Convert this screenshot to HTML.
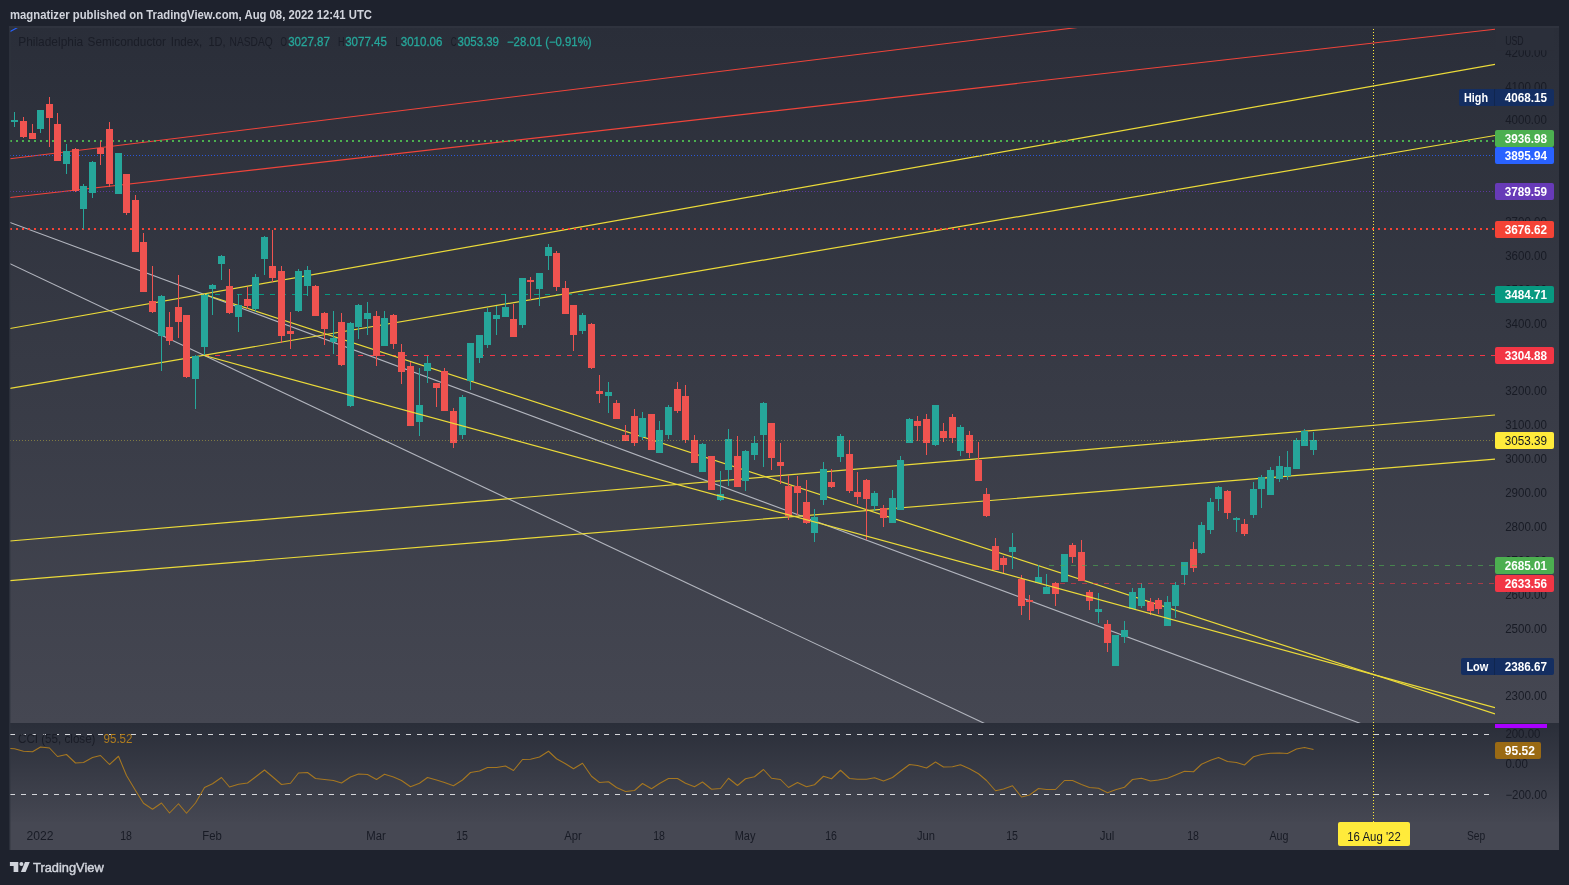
<!DOCTYPE html>
<html><head><meta charset="utf-8"><title>SOX chart</title>
<style>
html,body{margin:0;padding:0;background:#1e222d;}
body{width:1569px;height:885px;overflow:hidden;font-family:"Liberation Sans", sans-serif;}
svg{display:block;position:absolute;left:0;top:0;}
svg{will-change:transform;}
text{font-family:"Liberation Sans", sans-serif;}
</style></head><body>
<svg width="1569" height="885" viewBox="0 0 1569 885">
<defs>
<linearGradient id="gm" x1="0" y1="0" x2="0" y2="1"><stop offset="0" stop-color="#2a2e39"/><stop offset="1" stop-color="#454752"/></linearGradient>
<linearGradient id="gc" x1="0" y1="0" x2="0" y2="1"><stop offset="0" stop-color="#2a2e39"/><stop offset="1" stop-color="#454752"/></linearGradient>
<clipPath id="cm"><rect x="10" y="26" width="1485" height="697"/></clipPath>
<clipPath id="cc"><rect x="10" y="723" width="1485" height="99"/></clipPath>
</defs>
<rect x="0" y="0" width="1569" height="885" fill="#1e222d"/>
<rect x="10" y="26" width="1549" height="697" fill="url(#gm)"/>
<rect x="10" y="723" width="1549" height="99" fill="url(#gc)"/>
<rect x="10" y="822" width="1549" height="28" fill="#464853"/>

<text x="10" y="18.7" font-size="12" font-weight="bold" fill="#d1d4dc" textLength="362" lengthAdjust="spacingAndGlyphs">magnatizer published on TradingView.com, Aug 08, 2022 12:41 UTC</text>
<g clip-path="url(#cm)">
<line x1="204" y1="294.5" x2="1495" y2="294.5" stroke="#089981" stroke-width="1" stroke-dasharray="5 6" stroke-opacity="1" shape-rendering="crispEdges"/>
<line x1="204" y1="355.5" x2="1495" y2="355.5" stroke="#f23645" stroke-width="1" stroke-dasharray="5 6" stroke-opacity="1" shape-rendering="crispEdges"/>
</g>
<g clip-path="url(#cm)" fill="none">
<line x1="10.00" y1="222.40" x2="1500.00" y2="775.21" stroke="#b2b5be" stroke-width="1.1"/>
<line x1="10.00" y1="263.75" x2="1100.00" y2="777.93" stroke="#b2b5be" stroke-width="1.1"/>
<line x1="10.00" y1="158.70" x2="1200.00" y2="12.43" stroke="#f0443a" stroke-width="1.1"/>
<line x1="10.00" y1="197.50" x2="1495.00" y2="29.30" stroke="#f0443a" stroke-width="1.1"/>
<line x1="10.00" y1="328.50" x2="1495.00" y2="64.30" stroke="#ecdb39" stroke-width="1.2"/>
<line x1="10.00" y1="388.30" x2="1495.00" y2="135.50" stroke="#ecdb39" stroke-width="1.2"/>
<line x1="10.00" y1="541.00" x2="1495.00" y2="415.00" stroke="#ecdb39" stroke-width="1.2"/>
<line x1="10.00" y1="580.70" x2="1495.00" y2="459.20" stroke="#ecdb39" stroke-width="1.2"/>
<line x1="204.50" y1="294.50" x2="1495.00" y2="714.00" stroke="#ecdb39" stroke-width="1.2"/>
</g>
<g clip-path="url(#cm)">
<line x1="10" y1="141.0" x2="1495" y2="141.0" stroke="#4caf50" stroke-width="2" stroke-dasharray="2 4" stroke-opacity="1" shape-rendering="crispEdges"/>
<line x1="10" y1="155.5" x2="1495" y2="155.5" stroke="#2962ff" stroke-width="1" stroke-dasharray="1 2" stroke-opacity="0.8" shape-rendering="crispEdges"/>
<line x1="10" y1="191.5" x2="1495" y2="191.5" stroke="#673ab7" stroke-width="1" stroke-dasharray="1 2" stroke-opacity="0.8" shape-rendering="crispEdges"/>
<line x1="10" y1="229.0" x2="1495" y2="229.0" stroke="#f44336" stroke-width="2" stroke-dasharray="2 4" stroke-opacity="1" shape-rendering="crispEdges"/>
</g>
<g shape-rendering="crispEdges">
<rect x="14" y="112" width="1" height="15" fill="#26a69a"/>
<rect x="11" y="120" width="7" height="2" fill="#26a69a"/>
<rect x="23" y="117" width="1" height="21" fill="#ef5350"/>
<rect x="20" y="121" width="7" height="16" fill="#ef5350"/>
<rect x="32" y="124" width="1" height="15" fill="#ef5350"/>
<rect x="29" y="133" width="7" height="6" fill="#ef5350"/>
<rect x="40" y="110" width="1" height="23" fill="#26a69a"/>
<rect x="37" y="110" width="7" height="19" fill="#26a69a"/>
<rect x="49" y="97" width="1" height="50" fill="#ef5350"/>
<rect x="46" y="104" width="7" height="14" fill="#ef5350"/>
<rect x="57" y="113" width="1" height="48" fill="#ef5350"/>
<rect x="54" y="124" width="7" height="37" fill="#ef5350"/>
<rect x="66" y="144" width="1" height="30" fill="#26a69a"/>
<rect x="63" y="151" width="7" height="13" fill="#26a69a"/>
<rect x="75" y="148" width="1" height="44" fill="#ef5350"/>
<rect x="72" y="149" width="7" height="42" fill="#ef5350"/>
<rect x="83" y="184" width="1" height="45" fill="#26a69a"/>
<rect x="80" y="186" width="7" height="23" fill="#26a69a"/>
<rect x="92" y="161" width="1" height="37" fill="#26a69a"/>
<rect x="89" y="162" width="7" height="31" fill="#26a69a"/>
<rect x="100" y="141" width="1" height="24" fill="#ef5350"/>
<rect x="97" y="148" width="7" height="6" fill="#ef5350"/>
<rect x="109" y="122" width="1" height="65" fill="#ef5350"/>
<rect x="106" y="129" width="7" height="55" fill="#ef5350"/>
<rect x="118" y="153" width="1" height="41" fill="#26a69a"/>
<rect x="115" y="153" width="7" height="41" fill="#26a69a"/>
<rect x="126" y="174" width="1" height="41" fill="#ef5350"/>
<rect x="123" y="174" width="7" height="39" fill="#ef5350"/>
<rect x="135" y="195" width="1" height="57" fill="#ef5350"/>
<rect x="132" y="200" width="7" height="52" fill="#ef5350"/>
<rect x="143" y="233" width="1" height="59" fill="#ef5350"/>
<rect x="140" y="242" width="7" height="50" fill="#ef5350"/>
<rect x="152" y="266" width="1" height="47" fill="#ef5350"/>
<rect x="149" y="301" width="7" height="11" fill="#ef5350"/>
<rect x="161" y="295" width="1" height="76" fill="#26a69a"/>
<rect x="158" y="296" width="7" height="40" fill="#26a69a"/>
<rect x="169" y="312" width="1" height="33" fill="#ef5350"/>
<rect x="166" y="327" width="7" height="14" fill="#ef5350"/>
<rect x="178" y="275" width="1" height="63" fill="#ef5350"/>
<rect x="175" y="307" width="7" height="15" fill="#ef5350"/>
<rect x="186" y="315" width="1" height="63" fill="#ef5350"/>
<rect x="183" y="315" width="7" height="62" fill="#ef5350"/>
<rect x="195" y="355" width="1" height="54" fill="#26a69a"/>
<rect x="192" y="356" width="7" height="23" fill="#26a69a"/>
<rect x="204" y="294" width="1" height="61" fill="#26a69a"/>
<rect x="201" y="295" width="7" height="52" fill="#26a69a"/>
<rect x="212" y="284" width="1" height="31" fill="#26a69a"/>
<rect x="209" y="285" width="7" height="4" fill="#26a69a"/>
<rect x="221" y="255" width="1" height="25" fill="#26a69a"/>
<rect x="218" y="256" width="7" height="8" fill="#26a69a"/>
<rect x="229" y="269" width="1" height="45" fill="#ef5350"/>
<rect x="226" y="286" width="7" height="27" fill="#ef5350"/>
<rect x="238" y="294" width="1" height="38" fill="#26a69a"/>
<rect x="235" y="305" width="7" height="12" fill="#26a69a"/>
<rect x="247" y="287" width="1" height="22" fill="#ef5350"/>
<rect x="244" y="299" width="7" height="7" fill="#ef5350"/>
<rect x="255" y="274" width="1" height="38" fill="#26a69a"/>
<rect x="252" y="277" width="7" height="32" fill="#26a69a"/>
<rect x="264" y="236" width="1" height="39" fill="#26a69a"/>
<rect x="261" y="237" width="7" height="22" fill="#26a69a"/>
<rect x="272" y="230" width="1" height="52" fill="#ef5350"/>
<rect x="269" y="266" width="7" height="12" fill="#ef5350"/>
<rect x="281" y="266" width="1" height="77" fill="#ef5350"/>
<rect x="278" y="271" width="7" height="65" fill="#ef5350"/>
<rect x="290" y="312" width="1" height="37" fill="#ef5350"/>
<rect x="287" y="331" width="7" height="3" fill="#ef5350"/>
<rect x="298" y="269" width="1" height="43" fill="#26a69a"/>
<rect x="295" y="271" width="7" height="40" fill="#26a69a"/>
<rect x="307" y="266" width="1" height="30" fill="#26a69a"/>
<rect x="304" y="270" width="7" height="16" fill="#26a69a"/>
<rect x="315" y="285" width="1" height="31" fill="#ef5350"/>
<rect x="312" y="286" width="7" height="30" fill="#ef5350"/>
<rect x="324" y="312" width="1" height="33" fill="#ef5350"/>
<rect x="321" y="313" width="7" height="16" fill="#ef5350"/>
<rect x="333" y="311" width="1" height="43" fill="#26a69a"/>
<rect x="330" y="338" width="7" height="4" fill="#26a69a"/>
<rect x="341" y="313" width="1" height="53" fill="#ef5350"/>
<rect x="338" y="322" width="7" height="43" fill="#ef5350"/>
<rect x="350" y="322" width="1" height="85" fill="#26a69a"/>
<rect x="347" y="323" width="7" height="83" fill="#26a69a"/>
<rect x="358" y="304" width="1" height="35" fill="#26a69a"/>
<rect x="355" y="305" width="7" height="22" fill="#26a69a"/>
<rect x="367" y="302" width="1" height="33" fill="#26a69a"/>
<rect x="364" y="313" width="7" height="6" fill="#26a69a"/>
<rect x="376" y="311" width="1" height="55" fill="#ef5350"/>
<rect x="373" y="316" width="7" height="40" fill="#ef5350"/>
<rect x="384" y="311" width="1" height="35" fill="#26a69a"/>
<rect x="381" y="318" width="7" height="28" fill="#26a69a"/>
<rect x="393" y="314" width="1" height="35" fill="#ef5350"/>
<rect x="390" y="315" width="7" height="29" fill="#ef5350"/>
<rect x="401" y="344" width="1" height="40" fill="#ef5350"/>
<rect x="398" y="352" width="7" height="20" fill="#ef5350"/>
<rect x="410" y="362" width="1" height="64" fill="#ef5350"/>
<rect x="407" y="366" width="7" height="60" fill="#ef5350"/>
<rect x="419" y="368" width="1" height="68" fill="#26a69a"/>
<rect x="416" y="405" width="7" height="17" fill="#26a69a"/>
<rect x="427" y="356" width="1" height="27" fill="#26a69a"/>
<rect x="424" y="363" width="7" height="8" fill="#26a69a"/>
<rect x="436" y="383" width="1" height="24" fill="#ef5350"/>
<rect x="433" y="383" width="7" height="5" fill="#ef5350"/>
<rect x="444" y="368" width="1" height="43" fill="#ef5350"/>
<rect x="441" y="371" width="7" height="40" fill="#ef5350"/>
<rect x="453" y="408" width="1" height="40" fill="#ef5350"/>
<rect x="450" y="411" width="7" height="32" fill="#ef5350"/>
<rect x="462" y="395" width="1" height="44" fill="#26a69a"/>
<rect x="459" y="397" width="7" height="38" fill="#26a69a"/>
<rect x="470" y="343" width="1" height="47" fill="#26a69a"/>
<rect x="467" y="343" width="7" height="38" fill="#26a69a"/>
<rect x="479" y="335" width="1" height="28" fill="#26a69a"/>
<rect x="476" y="335" width="7" height="23" fill="#26a69a"/>
<rect x="487" y="308" width="1" height="40" fill="#26a69a"/>
<rect x="484" y="312" width="7" height="33" fill="#26a69a"/>
<rect x="496" y="306" width="1" height="29" fill="#26a69a"/>
<rect x="493" y="315" width="7" height="4" fill="#26a69a"/>
<rect x="505" y="294" width="1" height="23" fill="#26a69a"/>
<rect x="502" y="307" width="7" height="10" fill="#26a69a"/>
<rect x="513" y="304" width="1" height="33" fill="#ef5350"/>
<rect x="510" y="319" width="7" height="18" fill="#ef5350"/>
<rect x="522" y="278" width="1" height="50" fill="#26a69a"/>
<rect x="519" y="278" width="7" height="47" fill="#26a69a"/>
<rect x="530" y="277" width="1" height="23" fill="#ef5350"/>
<rect x="527" y="280" width="7" height="2" fill="#ef5350"/>
<rect x="539" y="273" width="1" height="33" fill="#26a69a"/>
<rect x="536" y="273" width="7" height="16" fill="#26a69a"/>
<rect x="548" y="244" width="1" height="26" fill="#26a69a"/>
<rect x="545" y="247" width="7" height="9" fill="#26a69a"/>
<rect x="556" y="251" width="1" height="40" fill="#ef5350"/>
<rect x="553" y="253" width="7" height="34" fill="#ef5350"/>
<rect x="565" y="281" width="1" height="33" fill="#ef5350"/>
<rect x="562" y="288" width="7" height="26" fill="#ef5350"/>
<rect x="573" y="305" width="1" height="46" fill="#ef5350"/>
<rect x="570" y="305" width="7" height="30" fill="#ef5350"/>
<rect x="582" y="313" width="1" height="21" fill="#26a69a"/>
<rect x="579" y="315" width="7" height="16" fill="#26a69a"/>
<rect x="591" y="323" width="1" height="46" fill="#ef5350"/>
<rect x="588" y="324" width="7" height="44" fill="#ef5350"/>
<rect x="599" y="375" width="1" height="28" fill="#ef5350"/>
<rect x="596" y="391" width="7" height="3" fill="#ef5350"/>
<rect x="608" y="382" width="1" height="31" fill="#26a69a"/>
<rect x="605" y="392" width="7" height="4" fill="#26a69a"/>
<rect x="616" y="400" width="1" height="19" fill="#ef5350"/>
<rect x="613" y="403" width="7" height="16" fill="#ef5350"/>
<rect x="625" y="425" width="1" height="16" fill="#ef5350"/>
<rect x="622" y="435" width="7" height="6" fill="#ef5350"/>
<rect x="634" y="409" width="1" height="37" fill="#ef5350"/>
<rect x="631" y="416" width="7" height="27" fill="#ef5350"/>
<rect x="642" y="412" width="1" height="28" fill="#26a69a"/>
<rect x="639" y="418" width="7" height="19" fill="#26a69a"/>
<rect x="651" y="414" width="1" height="36" fill="#ef5350"/>
<rect x="648" y="414" width="7" height="36" fill="#ef5350"/>
<rect x="659" y="421" width="1" height="32" fill="#26a69a"/>
<rect x="656" y="430" width="7" height="23" fill="#26a69a"/>
<rect x="668" y="405" width="1" height="34" fill="#26a69a"/>
<rect x="665" y="407" width="7" height="28" fill="#26a69a"/>
<rect x="677" y="382" width="1" height="31" fill="#ef5350"/>
<rect x="674" y="389" width="7" height="22" fill="#ef5350"/>
<rect x="685" y="385" width="1" height="58" fill="#ef5350"/>
<rect x="682" y="396" width="7" height="44" fill="#ef5350"/>
<rect x="694" y="435" width="1" height="28" fill="#ef5350"/>
<rect x="691" y="440" width="7" height="23" fill="#ef5350"/>
<rect x="702" y="443" width="1" height="29" fill="#26a69a"/>
<rect x="699" y="444" width="7" height="28" fill="#26a69a"/>
<rect x="711" y="456" width="1" height="34" fill="#ef5350"/>
<rect x="708" y="456" width="7" height="34" fill="#ef5350"/>
<rect x="720" y="471" width="1" height="30" fill="#26a69a"/>
<rect x="717" y="494" width="7" height="6" fill="#26a69a"/>
<rect x="728" y="429" width="1" height="57" fill="#26a69a"/>
<rect x="725" y="439" width="7" height="31" fill="#26a69a"/>
<rect x="737" y="436" width="1" height="51" fill="#ef5350"/>
<rect x="734" y="456" width="7" height="31" fill="#ef5350"/>
<rect x="745" y="450" width="1" height="41" fill="#26a69a"/>
<rect x="742" y="451" width="7" height="30" fill="#26a69a"/>
<rect x="754" y="436" width="1" height="24" fill="#26a69a"/>
<rect x="751" y="443" width="7" height="12" fill="#26a69a"/>
<rect x="763" y="402" width="1" height="65" fill="#26a69a"/>
<rect x="760" y="403" width="7" height="32" fill="#26a69a"/>
<rect x="771" y="423" width="1" height="47" fill="#ef5350"/>
<rect x="768" y="423" width="7" height="35" fill="#ef5350"/>
<rect x="780" y="443" width="1" height="41" fill="#ef5350"/>
<rect x="777" y="462" width="7" height="4" fill="#ef5350"/>
<rect x="788" y="475" width="1" height="45" fill="#ef5350"/>
<rect x="785" y="486" width="7" height="30" fill="#ef5350"/>
<rect x="797" y="476" width="1" height="39" fill="#ef5350"/>
<rect x="794" y="486" width="7" height="7" fill="#ef5350"/>
<rect x="806" y="480" width="1" height="44" fill="#ef5350"/>
<rect x="803" y="502" width="7" height="21" fill="#ef5350"/>
<rect x="814" y="509" width="1" height="33" fill="#26a69a"/>
<rect x="811" y="517" width="7" height="16" fill="#26a69a"/>
<rect x="823" y="462" width="1" height="43" fill="#26a69a"/>
<rect x="820" y="469" width="7" height="31" fill="#26a69a"/>
<rect x="831" y="469" width="1" height="19" fill="#ef5350"/>
<rect x="828" y="482" width="7" height="5" fill="#ef5350"/>
<rect x="840" y="434" width="1" height="28" fill="#26a69a"/>
<rect x="837" y="436" width="7" height="21" fill="#26a69a"/>
<rect x="849" y="440" width="1" height="53" fill="#ef5350"/>
<rect x="846" y="454" width="7" height="37" fill="#ef5350"/>
<rect x="857" y="472" width="1" height="32" fill="#ef5350"/>
<rect x="854" y="492" width="7" height="5" fill="#ef5350"/>
<rect x="866" y="479" width="1" height="61" fill="#ef5350"/>
<rect x="863" y="480" width="7" height="19" fill="#ef5350"/>
<rect x="874" y="491" width="1" height="20" fill="#26a69a"/>
<rect x="871" y="493" width="7" height="13" fill="#26a69a"/>
<rect x="883" y="505" width="1" height="22" fill="#ef5350"/>
<rect x="880" y="508" width="7" height="10" fill="#ef5350"/>
<rect x="892" y="490" width="1" height="33" fill="#26a69a"/>
<rect x="889" y="498" width="7" height="25" fill="#26a69a"/>
<rect x="900" y="456" width="1" height="54" fill="#26a69a"/>
<rect x="897" y="460" width="7" height="50" fill="#26a69a"/>
<rect x="909" y="418" width="1" height="25" fill="#26a69a"/>
<rect x="906" y="419" width="7" height="24" fill="#26a69a"/>
<rect x="917" y="416" width="1" height="25" fill="#ef5350"/>
<rect x="914" y="421" width="7" height="5" fill="#ef5350"/>
<rect x="926" y="414" width="1" height="41" fill="#ef5350"/>
<rect x="923" y="419" width="7" height="24" fill="#ef5350"/>
<rect x="935" y="405" width="1" height="41" fill="#26a69a"/>
<rect x="932" y="405" width="7" height="40" fill="#26a69a"/>
<rect x="943" y="423" width="1" height="19" fill="#ef5350"/>
<rect x="940" y="431" width="7" height="7" fill="#ef5350"/>
<rect x="952" y="414" width="1" height="29" fill="#ef5350"/>
<rect x="949" y="417" width="7" height="21" fill="#ef5350"/>
<rect x="960" y="425" width="1" height="31" fill="#26a69a"/>
<rect x="957" y="427" width="7" height="24" fill="#26a69a"/>
<rect x="969" y="431" width="1" height="27" fill="#ef5350"/>
<rect x="966" y="435" width="7" height="18" fill="#ef5350"/>
<rect x="978" y="442" width="1" height="39" fill="#ef5350"/>
<rect x="975" y="460" width="7" height="21" fill="#ef5350"/>
<rect x="986" y="488" width="1" height="29" fill="#ef5350"/>
<rect x="983" y="494" width="7" height="22" fill="#ef5350"/>
<rect x="995" y="538" width="1" height="32" fill="#ef5350"/>
<rect x="992" y="546" width="7" height="24" fill="#ef5350"/>
<rect x="1003" y="556" width="1" height="17" fill="#ef5350"/>
<rect x="1000" y="558" width="7" height="7" fill="#ef5350"/>
<rect x="1012" y="533" width="1" height="36" fill="#26a69a"/>
<rect x="1009" y="547" width="7" height="5" fill="#26a69a"/>
<rect x="1021" y="575" width="1" height="40" fill="#ef5350"/>
<rect x="1018" y="579" width="7" height="27" fill="#ef5350"/>
<rect x="1029" y="595" width="1" height="25" fill="#ef5350"/>
<rect x="1026" y="600" width="7" height="2" fill="#ef5350"/>
<rect x="1038" y="565" width="1" height="18" fill="#26a69a"/>
<rect x="1035" y="577" width="7" height="6" fill="#26a69a"/>
<rect x="1046" y="574" width="1" height="20" fill="#26a69a"/>
<rect x="1043" y="587" width="7" height="7" fill="#26a69a"/>
<rect x="1055" y="582" width="1" height="24" fill="#ef5350"/>
<rect x="1052" y="583" width="7" height="11" fill="#ef5350"/>
<rect x="1064" y="554" width="1" height="28" fill="#26a69a"/>
<rect x="1061" y="554" width="7" height="28" fill="#26a69a"/>
<rect x="1072" y="543" width="1" height="20" fill="#ef5350"/>
<rect x="1069" y="545" width="7" height="12" fill="#ef5350"/>
<rect x="1081" y="540" width="1" height="41" fill="#ef5350"/>
<rect x="1078" y="552" width="7" height="29" fill="#ef5350"/>
<rect x="1089" y="590" width="1" height="20" fill="#ef5350"/>
<rect x="1086" y="592" width="7" height="9" fill="#ef5350"/>
<rect x="1098" y="593" width="1" height="30" fill="#26a69a"/>
<rect x="1095" y="609" width="7" height="3" fill="#26a69a"/>
<rect x="1107" y="620" width="1" height="32" fill="#ef5350"/>
<rect x="1104" y="624" width="7" height="19" fill="#ef5350"/>
<rect x="1115" y="635" width="1" height="31" fill="#26a69a"/>
<rect x="1112" y="635" width="7" height="31" fill="#26a69a"/>
<rect x="1124" y="621" width="1" height="22" fill="#26a69a"/>
<rect x="1121" y="630" width="7" height="7" fill="#26a69a"/>
<rect x="1132" y="588" width="1" height="21" fill="#26a69a"/>
<rect x="1129" y="592" width="7" height="17" fill="#26a69a"/>
<rect x="1141" y="583" width="1" height="25" fill="#26a69a"/>
<rect x="1138" y="588" width="7" height="18" fill="#26a69a"/>
<rect x="1150" y="598" width="1" height="17" fill="#ef5350"/>
<rect x="1147" y="602" width="7" height="9" fill="#ef5350"/>
<rect x="1158" y="598" width="1" height="16" fill="#ef5350"/>
<rect x="1155" y="600" width="7" height="9" fill="#ef5350"/>
<rect x="1167" y="596" width="1" height="30" fill="#26a69a"/>
<rect x="1164" y="602" width="7" height="24" fill="#26a69a"/>
<rect x="1175" y="582" width="1" height="36" fill="#26a69a"/>
<rect x="1172" y="585" width="7" height="21" fill="#26a69a"/>
<rect x="1184" y="562" width="1" height="23" fill="#26a69a"/>
<rect x="1181" y="562" width="7" height="13" fill="#26a69a"/>
<rect x="1193" y="542" width="1" height="30" fill="#ef5350"/>
<rect x="1190" y="549" width="7" height="19" fill="#ef5350"/>
<rect x="1201" y="522" width="1" height="32" fill="#26a69a"/>
<rect x="1198" y="525" width="7" height="28" fill="#26a69a"/>
<rect x="1210" y="498" width="1" height="36" fill="#26a69a"/>
<rect x="1207" y="502" width="7" height="28" fill="#26a69a"/>
<rect x="1218" y="486" width="1" height="25" fill="#26a69a"/>
<rect x="1215" y="487" width="7" height="12" fill="#26a69a"/>
<rect x="1227" y="490" width="1" height="29" fill="#ef5350"/>
<rect x="1224" y="491" width="7" height="22" fill="#ef5350"/>
<rect x="1236" y="517" width="1" height="15" fill="#26a69a"/>
<rect x="1233" y="518" width="7" height="2" fill="#26a69a"/>
<rect x="1244" y="519" width="1" height="17" fill="#ef5350"/>
<rect x="1241" y="524" width="7" height="10" fill="#ef5350"/>
<rect x="1253" y="482" width="1" height="36" fill="#26a69a"/>
<rect x="1250" y="489" width="7" height="26" fill="#26a69a"/>
<rect x="1261" y="475" width="1" height="33" fill="#26a69a"/>
<rect x="1258" y="477" width="7" height="12" fill="#26a69a"/>
<rect x="1270" y="467" width="1" height="28" fill="#26a69a"/>
<rect x="1267" y="470" width="7" height="25" fill="#26a69a"/>
<rect x="1279" y="456" width="1" height="26" fill="#26a69a"/>
<rect x="1276" y="466" width="7" height="13" fill="#26a69a"/>
<rect x="1287" y="451" width="1" height="29" fill="#26a69a"/>
<rect x="1284" y="467" width="7" height="9" fill="#26a69a"/>
<rect x="1296" y="438" width="1" height="31" fill="#26a69a"/>
<rect x="1293" y="440" width="7" height="29" fill="#26a69a"/>
<rect x="1304" y="429" width="1" height="17" fill="#26a69a"/>
<rect x="1301" y="431" width="7" height="15" fill="#26a69a"/>
<rect x="1313" y="432" width="1" height="23" fill="#26a69a"/>
<rect x="1310" y="440" width="7" height="10" fill="#26a69a"/>
</g>
<g clip-path="url(#cm)">
<line x1="204.50" y1="355.50" x2="1495.00" y2="707.66" stroke="#ecdb39" stroke-width="1.2"/>
<line x1="1049" y1="565.5" x2="1495" y2="565.5" stroke="#4caf50" stroke-width="1" stroke-dasharray="5 6" stroke-opacity="0.6" shape-rendering="crispEdges"/>
<line x1="1060" y1="583.5" x2="1495" y2="583.5" stroke="#f23645" stroke-width="1" stroke-dasharray="5 6" stroke-opacity="0.6" shape-rendering="crispEdges"/>
<line x1="10" y1="440.5" x2="1495" y2="440.5" stroke="#ffeb3b" stroke-width="1" stroke-dasharray="1 2" stroke-opacity="0.35" shape-rendering="crispEdges"/>
</g>
<line x1="1373.5" y1="26" x2="1373.5" y2="822" stroke="#ffeb3b" stroke-width="1" stroke-dasharray="1 2" shape-rendering="crispEdges"/>
<g clip-path="url(#cc)">
<line x1="10" y1="734.5" x2="1495" y2="734.5" stroke="#d5d6da" stroke-width="1" stroke-dasharray="5 6" stroke-opacity="1" shape-rendering="crispEdges"/>
<line x1="10" y1="794.5" x2="1495" y2="794.5" stroke="#d5d6da" stroke-width="1" stroke-dasharray="5 6" stroke-opacity="1" shape-rendering="crispEdges"/>
<polyline points="5.5,748.2 14.5,748.75 23.5,751.25 32.5,751.75 40.5,747.00 49.5,748.00 57.5,756.50 66.5,754.50 75.5,763.00 83.5,762.50 92.5,757.50 100.5,755.50 109.5,764.50 118.5,756.25 126.5,775.50 135.5,790.50 143.5,803.25 152.5,809.25 161.5,803.00 169.5,813.00 178.5,803.75 186.5,813.25 195.5,803.00 204.5,787.50 212.5,783.75 221.5,777.50 229.5,787.00 238.5,784.25 247.5,783.00 255.5,777.00 264.5,770.00 272.5,776.75 281.5,784.50 290.5,783.25 298.5,773.00 307.5,772.50 315.5,778.50 324.5,779.50 333.5,780.50 341.5,783.00 350.5,777.00 358.5,774.00 367.5,774.50 376.5,779.50 384.5,774.25 393.5,777.00 401.5,780.50 410.5,786.75 419.5,783.25 427.5,777.50 436.5,780.00 444.5,782.50 453.5,785.75 462.5,780.00 470.5,772.50 479.5,771.00 487.5,767.50 496.5,767.50 505.5,766.00 513.5,770.50 522.5,759.50 530.5,759.25 539.5,757.00 548.5,751.25 556.5,758.75 565.5,763.75 573.5,768.75 582.5,763.25 591.5,776.25 599.5,782.50 608.5,781.75 616.5,787.50 625.5,791.50 634.5,790.50 642.5,783.50 651.5,788.75 659.5,783.50 668.5,778.50 677.5,778.50 685.5,783.25 694.5,786.75 702.5,782.00 711.5,789.25 720.5,788.50 728.5,778.25 737.5,785.50 745.5,778.75 754.5,776.75 763.5,769.50 771.5,778.25 780.5,779.50 788.5,787.50 797.5,782.50 806.5,786.75 814.5,784.75 823.5,776.25 831.5,778.75 840.5,770.25 849.5,778.50 857.5,779.25 866.5,779.25 874.5,777.75 883.5,781.00 892.5,777.50 900.5,771.25 909.5,764.50 917.5,765.50 926.5,768.00 935.5,762.00 943.5,767.00 952.5,766.75 960.5,764.75 969.5,768.75 978.5,773.75 986.5,780.50 995.5,790.75 1003.5,789.00 1012.5,785.75 1021.5,797.00 1029.5,795.00 1038.5,788.50 1046.5,789.50 1055.5,789.50 1064.5,780.50 1072.5,780.50 1081.5,784.50 1089.5,787.50 1098.5,788.25 1107.5,792.75 1115.5,789.75 1124.5,787.25 1132.5,779.50 1141.5,778.25 1150.5,781.00 1158.5,780.00 1167.5,778.25 1175.5,775.00 1184.5,771.25 1193.5,771.75 1201.5,764.25 1210.5,760.25 1218.5,757.50 1227.5,761.50 1236.5,762.50 1244.5,765.00 1253.5,756.75 1261.5,754.50 1270.5,753.25 1279.5,753.00 1287.5,753.50 1296.5,749.00 1304.5,747.50 1313.5,749.50" fill="none" stroke="#a67720" stroke-width="1.05" stroke-linejoin="round"/>
</g>
<line x1="10.2" y1="31.6" x2="18.5" y2="26.9" stroke="#2962ff" stroke-width="1.15"/>
<rect x="9" y="26" width="1.5" height="824" fill="#30343f" opacity="0.8"/>
<rect x="9" y="26" width="1550" height="2" fill="#2f333e"/>
<text x="18.2" y="46" font-size="12" font-weight="normal" fill="#1a1d27" text-anchor="start" textLength="65" lengthAdjust="spacingAndGlyphs">Philadelphia</text>
<text x="87.6" y="46" font-size="12" font-weight="normal" fill="#1a1d27" text-anchor="start" textLength="78.4" lengthAdjust="spacingAndGlyphs">Semiconductor</text>
<text x="170.7" y="46" font-size="12" font-weight="normal" fill="#1a1d27" text-anchor="start" textLength="31.6" lengthAdjust="spacingAndGlyphs">Index,</text>
<text x="208.4" y="46" font-size="12" font-weight="normal" fill="#1a1d27" text-anchor="start" textLength="17.2" lengthAdjust="spacingAndGlyphs">1D,</text>
<text x="229.6" y="46" font-size="12" font-weight="normal" fill="#1a1d27" text-anchor="start" textLength="43" lengthAdjust="spacingAndGlyphs">NASDAQ</text>
<text x="280.6" y="46" font-size="12" font-weight="normal" fill="#1a1d27" text-anchor="start" textLength="6.4" lengthAdjust="spacingAndGlyphs">O</text>
<text x="288.2" y="46" font-size="12" font-weight="normal" fill="#26a69a" text-anchor="start" textLength="41.6" lengthAdjust="spacingAndGlyphs" stroke="#26a69a" stroke-width="0.3">3027.87</text>
<text x="338" y="46" font-size="12" font-weight="normal" fill="#1a1d27" text-anchor="start" textLength="6.5" lengthAdjust="spacingAndGlyphs">H</text>
<text x="345.2" y="46" font-size="12" font-weight="normal" fill="#26a69a" text-anchor="start" textLength="41.6" lengthAdjust="spacingAndGlyphs" stroke="#26a69a" stroke-width="0.3">3077.45</text>
<text x="395.4" y="46" font-size="12" font-weight="normal" fill="#1a1d27" text-anchor="start" textLength="4.4" lengthAdjust="spacingAndGlyphs">L</text>
<text x="400.8" y="46" font-size="12" font-weight="normal" fill="#26a69a" text-anchor="start" textLength="41.6" lengthAdjust="spacingAndGlyphs" stroke="#26a69a" stroke-width="0.3">3010.06</text>
<text x="450.7" y="46" font-size="12" font-weight="normal" fill="#1a1d27" text-anchor="start" textLength="5.8" lengthAdjust="spacingAndGlyphs">C</text>
<text x="457.6" y="46" font-size="12" font-weight="normal" fill="#26a69a" text-anchor="start" textLength="41.4" lengthAdjust="spacingAndGlyphs" stroke="#26a69a" stroke-width="0.3">3053.39</text>
<text x="507" y="46" font-size="12" font-weight="normal" fill="#26a69a" text-anchor="start" textLength="84.5" lengthAdjust="spacingAndGlyphs" stroke="#26a69a" stroke-width="0.3">&#8722;28.01 (&#8722;0.91%)</text>
<text x="18" y="743" font-size="12" font-weight="normal" fill="#1a1d27" text-anchor="start" textLength="77.5" lengthAdjust="spacingAndGlyphs">CCI (55, close)</text>
<text x="103.5" y="743" font-size="12" font-weight="normal" fill="#b07d1e" text-anchor="start" textLength="29" lengthAdjust="spacingAndGlyphs">95.52</text>
<text x="1505.2" y="700.4" font-size="12" font-weight="normal" fill="#181b25" text-anchor="start" textLength="41.7" lengthAdjust="spacingAndGlyphs">2300.00</text>
<text x="1505.2" y="666.5" font-size="12" font-weight="normal" fill="#181b25" text-anchor="start" textLength="41.7" lengthAdjust="spacingAndGlyphs">2400.00</text>
<text x="1505.2" y="632.6" font-size="12" font-weight="normal" fill="#181b25" text-anchor="start" textLength="41.7" lengthAdjust="spacingAndGlyphs">2500.00</text>
<text x="1505.2" y="598.7" font-size="12" font-weight="normal" fill="#181b25" text-anchor="start" textLength="41.7" lengthAdjust="spacingAndGlyphs">2600.00</text>
<text x="1505.2" y="564.8" font-size="12" font-weight="normal" fill="#181b25" text-anchor="start" textLength="41.7" lengthAdjust="spacingAndGlyphs">2700.00</text>
<text x="1505.2" y="531.0" font-size="12" font-weight="normal" fill="#181b25" text-anchor="start" textLength="41.7" lengthAdjust="spacingAndGlyphs">2800.00</text>
<text x="1505.2" y="497.1" font-size="12" font-weight="normal" fill="#181b25" text-anchor="start" textLength="41.7" lengthAdjust="spacingAndGlyphs">2900.00</text>
<text x="1505.2" y="463.2" font-size="12" font-weight="normal" fill="#181b25" text-anchor="start" textLength="41.7" lengthAdjust="spacingAndGlyphs">3000.00</text>
<text x="1505.2" y="429.3" font-size="12" font-weight="normal" fill="#181b25" text-anchor="start" textLength="41.7" lengthAdjust="spacingAndGlyphs">3100.00</text>
<text x="1505.2" y="395.4" font-size="12" font-weight="normal" fill="#181b25" text-anchor="start" textLength="41.7" lengthAdjust="spacingAndGlyphs">3200.00</text>
<text x="1505.2" y="361.6" font-size="12" font-weight="normal" fill="#181b25" text-anchor="start" textLength="41.7" lengthAdjust="spacingAndGlyphs">3300.00</text>
<text x="1505.2" y="327.7" font-size="12" font-weight="normal" fill="#181b25" text-anchor="start" textLength="41.7" lengthAdjust="spacingAndGlyphs">3400.00</text>
<text x="1505.2" y="293.8" font-size="12" font-weight="normal" fill="#181b25" text-anchor="start" textLength="41.7" lengthAdjust="spacingAndGlyphs">3500.00</text>
<text x="1505.2" y="259.9" font-size="12" font-weight="normal" fill="#181b25" text-anchor="start" textLength="41.7" lengthAdjust="spacingAndGlyphs">3600.00</text>
<text x="1505.2" y="226.0" font-size="12" font-weight="normal" fill="#181b25" text-anchor="start" textLength="41.7" lengthAdjust="spacingAndGlyphs">3700.00</text>
<text x="1505.2" y="192.2" font-size="12" font-weight="normal" fill="#181b25" text-anchor="start" textLength="41.7" lengthAdjust="spacingAndGlyphs">3800.00</text>
<text x="1505.2" y="158.3" font-size="12" font-weight="normal" fill="#181b25" text-anchor="start" textLength="41.7" lengthAdjust="spacingAndGlyphs">3900.00</text>
<text x="1505.2" y="124.4" font-size="12" font-weight="normal" fill="#181b25" text-anchor="start" textLength="41.7" lengthAdjust="spacingAndGlyphs">4000.00</text>
<text x="1505.2" y="90.5" font-size="12" font-weight="normal" fill="#181b25" text-anchor="start" textLength="41.7" lengthAdjust="spacingAndGlyphs">4100.00</text>
<text x="1505.2" y="56.6" font-size="12" font-weight="normal" fill="#181b25" text-anchor="start" textLength="41.7" lengthAdjust="spacingAndGlyphs">4200.00</text>
<rect x="1496" y="28" width="58" height="22.3" fill="#2b2f3a"/>
<text x="1505.2" y="45.4" font-size="12" font-weight="normal" fill="#181b25" text-anchor="start" textLength="18.5" lengthAdjust="spacingAndGlyphs">USD</text>
<rect x="1459" y="89" width="38" height="17" rx="2" ry="2" fill="#142e61"/>
<text x="1464" y="102" font-size="12" font-weight="bold" fill="#ffffff" text-anchor="start" textLength="24" lengthAdjust="spacingAndGlyphs">High</text>
<rect x="1495" y="89" width="59" height="17" rx="2" ry="2" fill="#142e61"/>
<text x="1504.8" y="102" font-size="12" font-weight="bold" fill="#ffffff" text-anchor="start" textLength="42.3" lengthAdjust="spacingAndGlyphs">4068.15</text>
<rect x="1494" y="89" width="1" height="17" fill="#10264f"/>
<rect x="1495" y="130" width="59" height="17" rx="2" ry="2" fill="#4caf50"/>
<text x="1504.8" y="143" font-size="12" font-weight="bold" fill="#ffffff" text-anchor="start" textLength="42.3" lengthAdjust="spacingAndGlyphs">3936.98</text>
<rect x="1495" y="147" width="59" height="17" rx="2" ry="2" fill="#2962ff"/>
<text x="1504.8" y="160" font-size="12" font-weight="bold" fill="#ffffff" text-anchor="start" textLength="42.3" lengthAdjust="spacingAndGlyphs">3895.94</text>
<rect x="1495" y="183" width="59" height="17" rx="2" ry="2" fill="#673ab7"/>
<text x="1504.8" y="196" font-size="12" font-weight="bold" fill="#ffffff" text-anchor="start" textLength="42.3" lengthAdjust="spacingAndGlyphs">3789.59</text>
<rect x="1495" y="221" width="59" height="17" rx="2" ry="2" fill="#f44336"/>
<text x="1504.8" y="234" font-size="12" font-weight="bold" fill="#ffffff" text-anchor="start" textLength="42.3" lengthAdjust="spacingAndGlyphs">3676.62</text>
<rect x="1495" y="286" width="59" height="17" rx="2" ry="2" fill="#089981"/>
<text x="1504.8" y="299" font-size="12" font-weight="bold" fill="#ffffff" text-anchor="start" textLength="42.3" lengthAdjust="spacingAndGlyphs">3484.71</text>
<rect x="1495" y="347" width="59" height="17" rx="2" ry="2" fill="#f23645"/>
<text x="1504.8" y="360" font-size="12" font-weight="bold" fill="#ffffff" text-anchor="start" textLength="42.3" lengthAdjust="spacingAndGlyphs">3304.88</text>
<rect x="1495" y="432" width="59" height="17" rx="2" ry="2" fill="#ffeb3b"/>
<text x="1504.8" y="445" font-size="12" font-weight="normal" fill="#131722" text-anchor="start" textLength="42.3" lengthAdjust="spacingAndGlyphs">3053.39</text>
<rect x="1495" y="557" width="59" height="17" rx="2" ry="2" fill="#4caf50"/>
<text x="1504.8" y="570" font-size="12" font-weight="bold" fill="#ffffff" text-anchor="start" textLength="42.3" lengthAdjust="spacingAndGlyphs">2685.01</text>
<rect x="1495" y="575" width="59" height="17" rx="2" ry="2" fill="#f23645"/>
<text x="1504.8" y="588" font-size="12" font-weight="bold" fill="#ffffff" text-anchor="start" textLength="42.3" lengthAdjust="spacingAndGlyphs">2633.56</text>
<rect x="1461" y="658" width="36" height="17" rx="2" ry="2" fill="#142e61"/>
<text x="1466.4" y="671" font-size="12" font-weight="bold" fill="#ffffff" text-anchor="start" textLength="22" lengthAdjust="spacingAndGlyphs">Low</text>
<rect x="1495" y="658" width="59" height="17" rx="2" ry="2" fill="#142e61"/>
<text x="1504.8" y="671" font-size="12" font-weight="bold" fill="#ffffff" text-anchor="start" textLength="42.3" lengthAdjust="spacingAndGlyphs">2386.67</text>
<rect x="1494" y="658" width="1" height="17" fill="#10264f"/>
<text x="1505.4" y="738" font-size="12" font-weight="normal" fill="#181b25" text-anchor="start" textLength="35" lengthAdjust="spacingAndGlyphs">200.00</text>
<text x="1505.4" y="768.3" font-size="12" font-weight="normal" fill="#181b25" text-anchor="start" textLength="22.4" lengthAdjust="spacingAndGlyphs">0.00</text>
<text x="1505.4" y="799" font-size="12" font-weight="normal" fill="#181b25" text-anchor="start" textLength="41.6" lengthAdjust="spacingAndGlyphs">&#8722;200.00</text>
<rect x="1495" y="724" width="52" height="4" fill="#aa00ff"/>
<rect x="1495" y="742" width="46" height="17" rx="2" ry="2" fill="#9a6a14"/>
<text x="1504.8" y="755" font-size="12" font-weight="bold" fill="#ffffff" text-anchor="start" textLength="30" lengthAdjust="spacingAndGlyphs">95.52</text>
<text x="26.5" y="840.3" font-size="12" font-weight="normal" fill="#181b25" text-anchor="start" textLength="27" lengthAdjust="spacingAndGlyphs">2022</text>
<text x="120.125" y="840.3" font-size="12" font-weight="normal" fill="#181b25" text-anchor="start" textLength="11.75" lengthAdjust="spacingAndGlyphs">18</text>
<text x="202.25" y="840.3" font-size="12" font-weight="normal" fill="#181b25" text-anchor="start" textLength="19.5" lengthAdjust="spacingAndGlyphs">Feb</text>
<text x="366.25" y="840.3" font-size="12" font-weight="normal" fill="#181b25" text-anchor="start" textLength="19.5" lengthAdjust="spacingAndGlyphs">Mar</text>
<text x="456.125" y="840.3" font-size="12" font-weight="normal" fill="#181b25" text-anchor="start" textLength="11.75" lengthAdjust="spacingAndGlyphs">15</text>
<text x="564.25" y="840.3" font-size="12" font-weight="normal" fill="#181b25" text-anchor="start" textLength="17.5" lengthAdjust="spacingAndGlyphs">Apr</text>
<text x="653.125" y="840.3" font-size="12" font-weight="normal" fill="#181b25" text-anchor="start" textLength="11.75" lengthAdjust="spacingAndGlyphs">18</text>
<text x="734.625" y="840.3" font-size="12" font-weight="normal" fill="#181b25" text-anchor="start" textLength="20.75" lengthAdjust="spacingAndGlyphs">May</text>
<text x="825.125" y="840.3" font-size="12" font-weight="normal" fill="#181b25" text-anchor="start" textLength="11.75" lengthAdjust="spacingAndGlyphs">16</text>
<text x="917.0" y="840.3" font-size="12" font-weight="normal" fill="#181b25" text-anchor="start" textLength="18" lengthAdjust="spacingAndGlyphs">Jun</text>
<text x="1006.125" y="840.3" font-size="12" font-weight="normal" fill="#181b25" text-anchor="start" textLength="11.75" lengthAdjust="spacingAndGlyphs">15</text>
<text x="1099.625" y="840.3" font-size="12" font-weight="normal" fill="#181b25" text-anchor="start" textLength="14.75" lengthAdjust="spacingAndGlyphs">Jul</text>
<text x="1187.125" y="840.3" font-size="12" font-weight="normal" fill="#181b25" text-anchor="start" textLength="11.75" lengthAdjust="spacingAndGlyphs">18</text>
<text x="1269.5" y="840.3" font-size="12" font-weight="normal" fill="#181b25" text-anchor="start" textLength="19" lengthAdjust="spacingAndGlyphs">Aug</text>
<text x="1466.875" y="840.3" font-size="12" font-weight="normal" fill="#181b25" text-anchor="start" textLength="18.25" lengthAdjust="spacingAndGlyphs">Sep</text>
<rect x="1338" y="822" width="72" height="24" rx="2" ry="2" fill="#ffeb3b"/>
<text x="1374" y="840.5" font-size="12" font-weight="normal" fill="#131722" text-anchor="middle" textLength="53.5" lengthAdjust="spacingAndGlyphs">16 Aug '22</text>
<g fill="#d1d4dc">
<path d="M9.9 862 H18.3 V872 H13.6 V866.1 H9.9 Z"/>
<circle cx="21.4" cy="864" r="2"/>
<path d="M25 862 H29.8 L25.6 872 H20.9 Z"/>
</g>
<text x="33.1" y="871.8" font-size="13" font-weight="normal" fill="#d1d4dc" text-anchor="start" textLength="70.6" lengthAdjust="spacingAndGlyphs" stroke="#d1d4dc" stroke-width="0.45">TradingView</text>
</svg></body></html>
